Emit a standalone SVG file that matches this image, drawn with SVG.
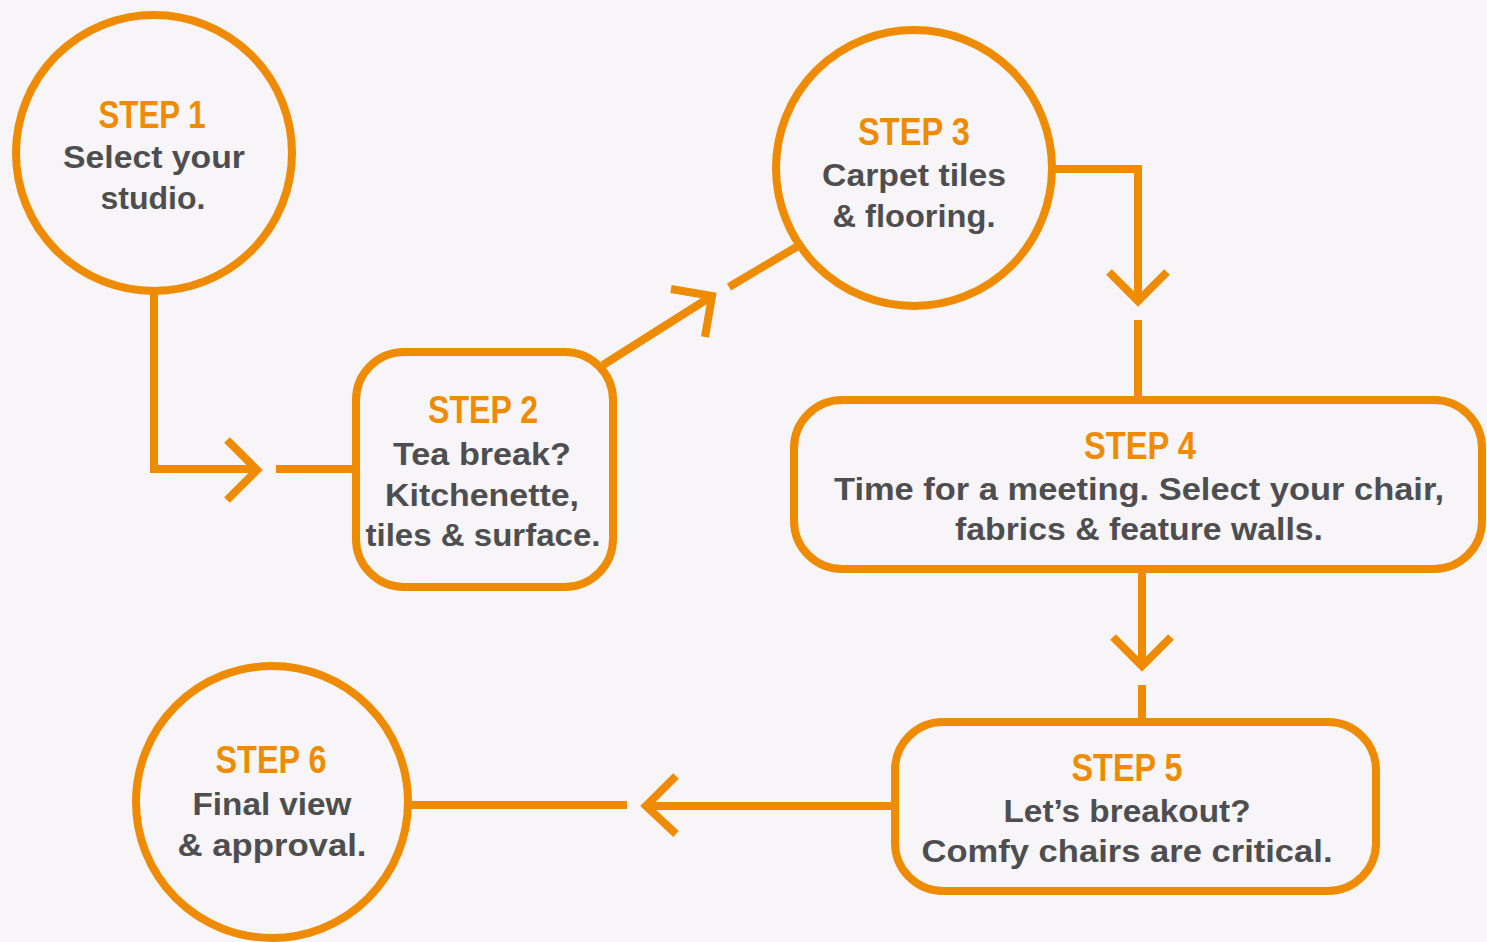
<svg xmlns="http://www.w3.org/2000/svg" width="1487" height="942" viewBox="0 0 1487 942">
<style>
.sh{fill:none;stroke:#EF8B00;stroke-width:8}
.ln{fill:none;stroke:#EF8B00;stroke-width:8;stroke-linecap:butt;stroke-linejoin:miter}
.hd{font-family:"Liberation Sans",Arial,sans-serif;font-weight:700;font-size:38px;fill:#EF8B00;text-anchor:middle}
.tx{font-family:"Liberation Sans",Arial,sans-serif;font-weight:700;font-size:31px;fill:#4E4E50;text-anchor:middle}
</style>
<rect width="1487" height="942" fill="#F7F5F8"/>
<g id="connectors">
<path class="ln" d="M154,291 V469 H258"/>
<path class="ln" d="M227,440 L257,470 L227,500"/>
<path class="ln" d="M276,469 H356"/>
<path class="ln" d="M603,365 L712,296"/>
<path class="ln" d="M671,289 L712,296 L705,337"/>
<path class="ln" d="M729,287 L798,246"/>
<path class="ln" d="M1052,169 H1138 V300"/>
<path class="ln" d="M1109,272 L1138,301 L1167,272"/>
<path class="ln" d="M1138,320 V400"/>
<path class="ln" d="M1142,569 V666"/>
<path class="ln" d="M1113,637 L1142,666 L1171,637"/>
<path class="ln" d="M1142,685 V722"/>
<path class="ln" d="M895,806 H646"/>
<path class="ln" d="M676,776 L646,806 L676,834"/>
<path class="ln" d="M627,805 H408"/>
</g>
<g id="step1">
<circle class="sh" cx="154" cy="153" r="138"/>
<text class="hd" x="152" y="128" textLength="107" lengthAdjust="spacingAndGlyphs">STEP 1</text>
<text class="tx" x="154" y="168" textLength="182" lengthAdjust="spacingAndGlyphs">Select your</text>
<text class="tx" x="153" y="209" textLength="105" lengthAdjust="spacingAndGlyphs">studio.</text>
</g>
<g id="step2">
<rect class="sh" x="356" y="352" width="257" height="235" rx="48"/>
<text class="hd" x="483" y="423" textLength="110" lengthAdjust="spacingAndGlyphs">STEP 2</text>
<text class="tx" x="482" y="465" textLength="178" lengthAdjust="spacingAndGlyphs">Tea break?</text>
<text class="tx" x="482" y="506" textLength="194" lengthAdjust="spacingAndGlyphs">Kitchenette,</text>
<text class="tx" x="483" y="546" textLength="235" lengthAdjust="spacingAndGlyphs">tiles &amp; surface.</text>
</g>
<g id="step3">
<circle class="sh" cx="914" cy="168" r="138"/>
<text class="hd" x="914" y="145" textLength="112" lengthAdjust="spacingAndGlyphs">STEP 3</text>
<text class="tx" x="914" y="186" textLength="184" lengthAdjust="spacingAndGlyphs">Carpet tiles</text>
<text class="tx" x="914" y="227" textLength="163" lengthAdjust="spacingAndGlyphs">&amp; flooring.</text>
</g>
<g id="step4">
<rect class="sh" x="794" y="400" width="688" height="169" rx="48"/>
<text class="hd" x="1140" y="459" textLength="112" lengthAdjust="spacingAndGlyphs">STEP 4</text>
<text class="tx" x="1139" y="500" textLength="610" lengthAdjust="spacingAndGlyphs">Time for a meeting. Select your chair,</text>
<text class="tx" x="1139" y="540" textLength="368" lengthAdjust="spacingAndGlyphs">fabrics &amp; feature walls.</text>
</g>
<g id="step5">
<rect class="sh" x="895" y="722" width="481" height="169" rx="48"/>
<text class="hd" x="1127" y="781" textLength="111" lengthAdjust="spacingAndGlyphs">STEP 5</text>
<text class="tx" x="1127" y="822" textLength="247" lengthAdjust="spacingAndGlyphs">Let’s breakout?</text>
<text class="tx" x="1127" y="862" textLength="411" lengthAdjust="spacingAndGlyphs">Comfy chairs are critical.</text>
</g>
<g id="step6">
<circle class="sh" cx="272" cy="802" r="136"/>
<text class="hd" x="271" y="773" textLength="111" lengthAdjust="spacingAndGlyphs">STEP 6</text>
<text class="tx" x="272" y="815" textLength="159" lengthAdjust="spacingAndGlyphs">Final view</text>
<text class="tx" x="272" y="856" textLength="189" lengthAdjust="spacingAndGlyphs">&amp; approval.</text>
</g>
</svg>
